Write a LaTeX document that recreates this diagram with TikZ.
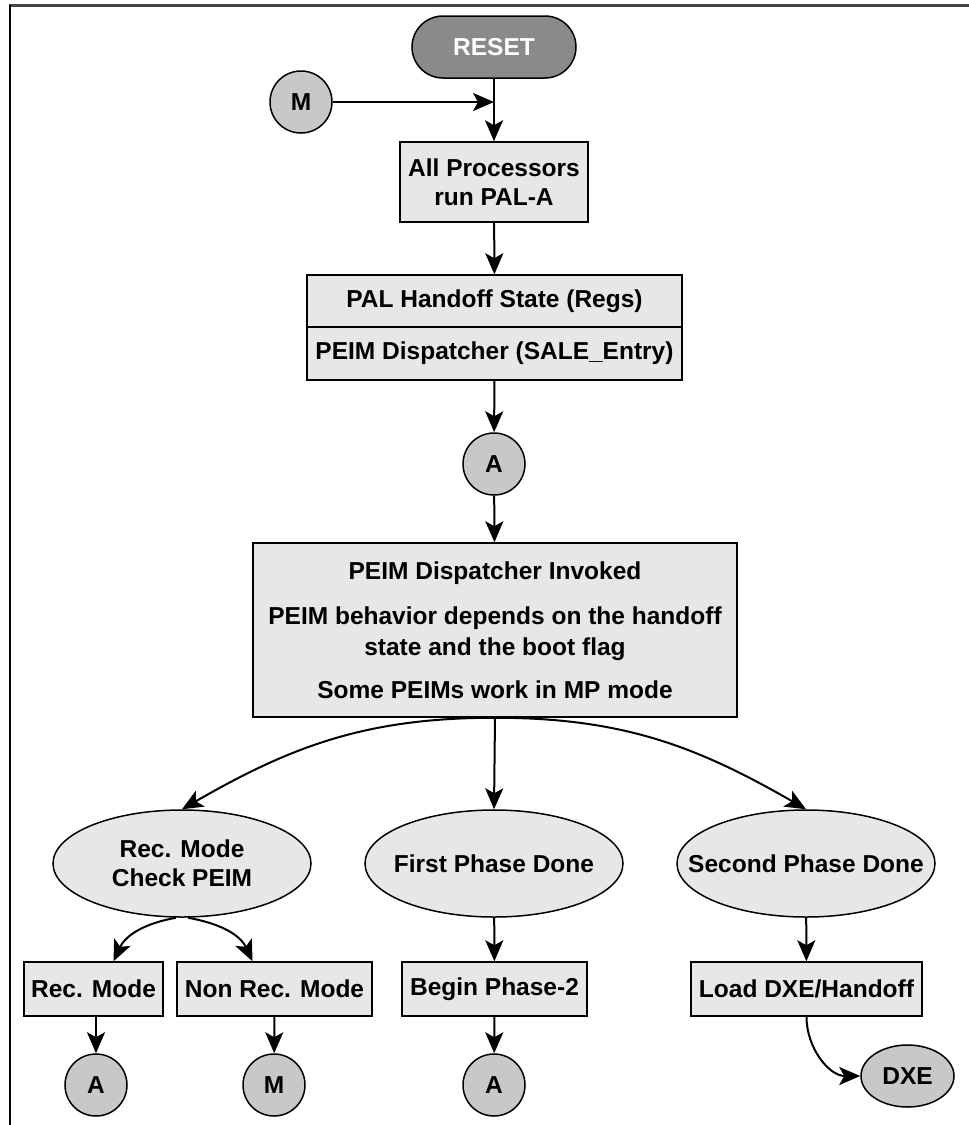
\documentclass[tikz,border=0pt]{standalone}
\usepackage{fontspec}
\setmainfont{Liberation Sans}
\usetikzlibrary{arrows.meta,shapes.geometric}
\definecolor{boxfill}{HTML}{E6E7E8}
\definecolor{circfill}{HTML}{C8C8C9}
\definecolor{resetfill}{HTML}{8A8A8C}
\definecolor{framecol}{HTML}{444444}
\tikzset{
  base/.style={draw=black, line width=1.5pt, inner sep=0pt, align=center, font=\fontsize{24.5}{29}\selectfont\bfseries},
  box/.style={base, rectangle, fill=boxfill},
  oval/.style={base, ellipse, fill=boxfill, inner xsep=-30pt, minimum width=258pt, minimum height=107pt},
  conn/.style={base, circle, fill=circfill, minimum size=62pt},
  arr/.style={line width=2pt, -{Stealth[length=21pt,width=18pt,inset=5pt]}},
}
\begin{document}
\begin{tikzpicture}[x=1pt,y=-1pt]
\useasboundingbox (0,0) rectangle (969,1125);
\draw[framecol, line width=2.5pt] (9,5.5) -- (969,5.5);
\draw[black, line width=1.6pt] (10,5) -- (10,1125);

\node[base, fill=resetfill, rounded corners=31pt, minimum width=164pt, minimum height=62pt, text=white] (reset) at (494,47) {RESET};
\node[conn] (m1) at (301,102) {M};
\node[box, minimum width=188pt, minimum height=80pt] (pal) at (494,182) {All Processors\\run PAL-A};
\node[box, minimum width=375pt, minimum height=52pt] (hs) at (494.5,301) {PAL Handoff State (Regs)};
\node[box, minimum width=375pt, minimum height=53pt] (pd) at (494.5,353.5) {PEIM Dispatcher (SALE\_Entry)};
\node[conn] (a1) at (494,464) {A};
\node[box, minimum width=484pt, minimum height=174pt, font=\fontsize{24.5}{31}\selectfont\bfseries] (inv) at (495,630)
  {PEIM Dispatcher Invoked\\[14pt]PEIM behavior depends on the handoff\\state and the boot flag\\[12pt]Some PEIMs work in MP mode};

\node[oval] (rec) at (182,863.5) {Rec. Mode\\Check PEIM};
\node[oval] (first) at (494,863.5) {First Phase Done};
\node[oval] (second) at (806,863.5) {Second Phase Done};

\node[box, minimum width=139pt, minimum height=54pt] (recm) at (93.5,989) {Rec. Mode};
\node[box, minimum width=195pt, minimum height=54pt] (nrec) at (274.5,989) {Non Rec. Mode};
\node[box, minimum width=185pt, minimum height=54pt] (begin) at (494.5,989) {Begin Phase-2};
\node[box, minimum width=231pt, minimum height=54pt] (load) at (806.5,989) {Load DXE/Handoff};

\node[conn] (a2) at (96,1085) {A};
\node[conn] (m2) at (274,1085) {M};
\node[conn] (a3) at (494,1085) {A};
\node[base, ellipse, fill=circfill, minimum width=93pt, minimum height=62pt] (dxe) at (907.5,1076) {DXE};

\coordinate (j) at (494,102);
\draw[arr] (m1) -- (j);
\draw[arr] (reset) -- (pal);
\draw[arr] (pal) -- (hs);
\draw[arr] (pd) -- (a1);
\draw[arr] (a1) -- (inv);
\draw[arr] (inv.south) to[out=180,in=30] (rec.north);
\draw[arr] (inv.south) -- (first.north);
\draw[arr] (inv.south) to[out=0,in=150] (second.north);
\draw[arr] ([xshift=-6pt]rec.south) to[out=190,in=65] ([xshift=20pt]recm.north);
\draw[arr] ([xshift=6pt]rec.south) to[out=-10,in=115] ([xshift=-22pt]nrec.north);
\draw[arr] (first) -- (begin);
\draw[arr] (second) -- (load);
\draw[arr] ([xshift=2.5pt]recm.south) -- (a2);
\draw[arr] (nrec) -- (m2);
\draw[arr] (begin) -- (a3);
\draw[arr] (load.south) to[out=-90,in=180] (dxe.west);
\end{tikzpicture}
\end{document}
